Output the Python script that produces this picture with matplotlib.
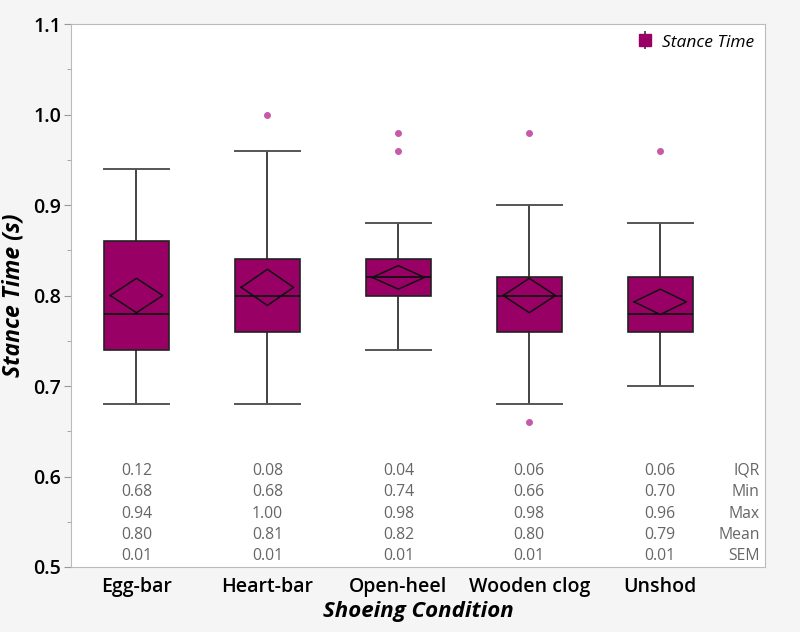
import matplotlib
matplotlib.use("Agg")
import matplotlib.pyplot as plt
from matplotlib.lines import Line2D

plt.rcParams['font.family'] = ['Open Sans', 'DejaVu Sans']

# data
conditions = ["Egg-bar", "Heart-bar", "Open-heel", "Wooden clog", "Unshod"]
whislo = [0.68, 0.68, 0.74, 0.68, 0.70]
q1 = [0.74, 0.76, 0.80, 0.76, 0.76]
med = [0.78, 0.80, 0.82, 0.80, 0.78]
q3 = [0.86, 0.84, 0.84, 0.82, 0.82]
whishi = [0.94, 0.96, 0.88, 0.90, 0.88]
outliers = [[], [1.00], [0.96, 0.98], [0.66, 0.98], [0.96]]
means = [0.800, 0.809, 0.820, 0.800, 0.793]
ci_half = [0.019, 0.020, 0.013, 0.019, 0.014]

stat_names = ["IQR", "Min", "Max", "Mean", "SEM"]
stat_iqr = ["0.12", "0.08", "0.04", "0.06", "0.06"]
stat_min = ["0.68", "0.68", "0.74", "0.66", "0.70"]
stat_max = ["0.94", "1.00", "0.98", "0.98", "0.96"]
stat_mean = ["0.80", "0.81", "0.82", "0.80", "0.79"]
stat_sem = ["0.01", "0.01", "0.01", "0.01", "0.01"]

box_color = "#990066"
dot_color = "#c65aa8"

fig = plt.figure(figsize=(8, 6.32), dpi=100, facecolor="#f5f5f5")
ax = fig.add_axes([71/800, 1-567/632, (765-71)/800, (567-24)/632])
ax.set_facecolor("white")

stats = []
for i in range(len(conditions)):
  stats.append({"whislo": whislo[i], "q1": q1[i], "med": med[i], "q3": q3[i],
                "whishi": whishi[i], "fliers": outliers[i], "label": conditions[i]})

xs = list(range(len(conditions)))
ax.bxp(stats, positions=xs, widths=0.5, patch_artist=True, showfliers=True,
       boxprops=dict(facecolor=box_color, edgecolor="#222222", linewidth=1.2),
       medianprops=dict(color="#111111", linewidth=1.3),
       whiskerprops=dict(color="#222222", linewidth=1.2),
       capprops=dict(color="#555555", linewidth=1.4),
       capwidths=0.5,
       flierprops=dict(marker="o", markersize=4, markerfacecolor=dot_color,
                       markeredgecolor=dot_color))

# mean diamonds
for i, x in enumerate(xs):
  dx = 0.2
  ax.plot([x - dx, x, x + dx, x, x - dx],
          [means[i], means[i] + ci_half[i], means[i], means[i] - ci_half[i], means[i]],
          color="#111111", linewidth=1.1)

# summary stats under the boxes
rows = [stat_iqr, stat_min, stat_max, stat_mean, stat_sem]
row_y = [0.6065, 0.5825, 0.559, 0.5355, 0.512]
for r, vals in enumerate(rows):
  for i, x in enumerate(xs):
    ax.text(x, row_y[r], vals[i], ha="center", va="center", fontsize=11.3, color="#666666")
  ax.text(4.76, row_y[r], stat_names[r], ha="right", va="center", fontsize=11.3, color="#666666")

ax.set_xlim(-0.5, 4.8)
ax.set_ylim(0.5, 1.1)
ax.set_xticks(xs)
ax.set_xticklabels(conditions, fontsize=14, fontweight="semibold")
ax.tick_params(axis="x", length=0, pad=7)
ax.set_yticks([0.5, 0.6, 0.7, 0.8, 0.9, 1.0, 1.1])
ax.set_yticklabels(["0.5", "0.6", "0.7", "0.8", "0.9", "1.0", "1.1"], fontsize=14, fontweight="semibold")
ax.set_yticks([0.55, 0.65, 0.75, 0.85, 0.95, 1.05], minor=True)
ax.tick_params(axis="y", which="major", length=5, color="#999999", pad=2)
ax.tick_params(axis="y", which="minor", length=3, color="#999999")
for s in ax.spines.values():
  s.set_color("#bbbbbb")
ax.set_xlabel("Shoeing Condition", fontsize=16, fontweight="bold", style="italic", labelpad=3)
ax.set_ylabel("Stance Time (s)", fontsize=16.5, fontweight="bold", style="italic", labelpad=6)

sq = Line2D([], [], marker="s", linestyle="none", markerfacecolor=box_color,
            markeredgecolor=box_color, markersize=8)
vline = Line2D([], [], marker="|", linestyle="none", color="#333333", markersize=13,
               markeredgewidth=1.2)
leg = ax.legend([(vline, sq)], ["Stance Time"], loc="upper right", frameon=False,
                handlelength=0.8, handletextpad=0.6, borderaxespad=0.2,
                prop=dict(style="italic", size=12.5))

fig.savefig("out.png", dpi=100, facecolor=fig.get_facecolor())
